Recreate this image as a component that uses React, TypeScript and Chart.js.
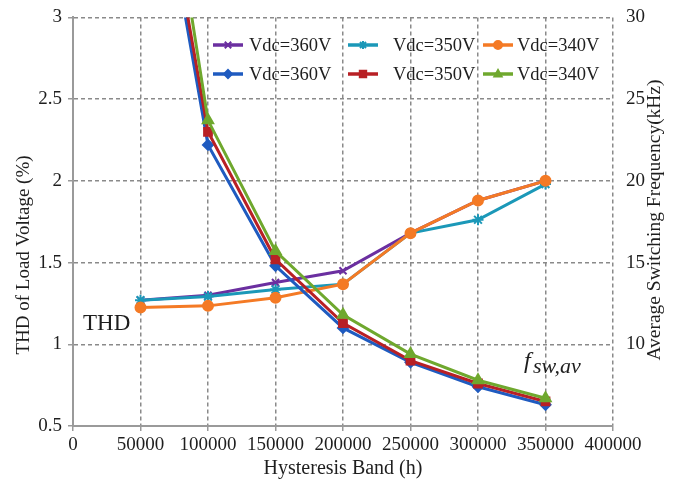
import React, { useEffect, useRef } from "react";
import { Chart, registerables } from "chart.js";

Chart.register(...registerables);

// ---------- data ----------
const hysteresisBand = [50000, 100000, 150000, 200000, 250000, 300000, 350000];

// THD of load voltage (%) – left axis
const thd360 = [1.27, 1.3, 1.378, 1.45, 1.68, 1.88, 2.0];
const thd350 = [1.27, 1.292, 1.335, 1.368, 1.68, 1.762, 1.98];
const thd340 = [1.225, 1.235, 1.285, 1.368, 1.68, 1.88, 2.0];

// Average switching frequency (kHz) – right axis
const fsw360 = [45.6, 22.2, 14.8, 11.0, 8.9, 7.4, 6.3];
const fsw350 = [46.5, 23.0, 15.2, 11.3, 9.0, 7.6, 6.5];
const fsw340 = [50.0, 23.7, 15.7, 11.8, 9.4, 7.8, 6.7];

const seriesLabels = ["Vdc=360V", "Vdc=350V", "Vdc=340V", "Vdc=360V", "Vdc=350V", "Vdc=340V"];

const xTitle = "Hysteresis Band (h)";
const yLeftTitle = "THD of Load Voltage (%)";
const yRightTitle = "Average Switching Frequency(kHz)";

// ---------- styles ----------
const SERIF = '"Liberation Serif", "DejaVu Serif", serif';
const TEXT = "#1e1e1e";
const GRID = "#8a8a8a";
const AXIS = "#9a9a9a";
const COLORS = ["#6b2fa0", "#1b98b8", "#f47a25", "#1f5bc0", "#b82025", "#6fa82e"];
const STYLES = ["crossRot", "star", "circle", "rectRot", "rect", "triangle"];
const RADII = [5, 5.5, 5, 5, 5.5, 6];

function marker(ctx: CanvasRenderingContext2D, style: string, x: number, y: number, r: number) {
  ctx.beginPath();
  switch (style) {
    case "crossRot": {
      const d = r * 0.8;
      ctx.moveTo(x - d, y - d); ctx.lineTo(x + d, y + d);
      ctx.moveTo(x - d, y + d); ctx.lineTo(x + d, y - d);
      ctx.stroke();
      return;
    }
    case "star": {
      const d = r * 0.75;
      ctx.moveTo(x - d, y - d); ctx.lineTo(x + d, y + d);
      ctx.moveTo(x - d, y + d); ctx.lineTo(x + d, y - d);
      ctx.moveTo(x, y - r); ctx.lineTo(x, y + r);
      ctx.moveTo(x - r, y); ctx.lineTo(x + r, y);
      ctx.stroke();
      return;
    }
    case "circle":
      ctx.arc(x, y, r, 0, Math.PI * 2);
      break;
    case "rectRot":
      ctx.moveTo(x, y - r); ctx.lineTo(x + r, y); ctx.lineTo(x, y + r); ctx.lineTo(x - r, y); ctx.closePath();
      break;
    case "rect":
      ctx.rect(x - r * 0.8, y - r * 0.8, r * 1.6, r * 1.6);
      break;
    case "triangle":
      ctx.moveTo(x, y - r); ctx.lineTo(x + r * 0.9, y + r * 0.6); ctx.lineTo(x - r * 0.9, y + r * 0.6); ctx.closePath();
      break;
  }
  ctx.fill();
  ctx.stroke();
}

const LEG_SAMPLE_X = [213, 348, 483];
const LEG_TEXT_X = [249, 393, 517];
const LEG_ROW_Y = [45, 74];

const overlayPlugin = {
  id: "overlay",
  afterDraw(chart: any) {
    const ctx: CanvasRenderingContext2D = chart.ctx;
    ctx.save();
    // legend
    chart.data.datasets.forEach((ds: any, i: number) => {
      const col = i % 3;
      const row = Math.floor(i / 3);
      const x0 = LEG_SAMPLE_X[col];
      const y = LEG_ROW_Y[row];
      ctx.strokeStyle = ds.borderColor;
      ctx.fillStyle = ds.borderColor;
      ctx.lineWidth = 3.5;
      ctx.setLineDash([]);
      ctx.beginPath();
      ctx.moveTo(x0, y);
      ctx.lineTo(x0 + 30, y);
      ctx.stroke();
      ctx.lineWidth = 2;
      marker(ctx, STYLES[i], x0 + 15, y, 4);
      ctx.fillStyle = TEXT;
      ctx.font = `18.5px ${SERIF}`;
      ctx.textAlign = "left";
      ctx.textBaseline = "middle";
      ctx.fillText(ds.label, LEG_TEXT_X[col], y + 1);
    });

    // annotations
    ctx.fillStyle = TEXT;
    ctx.textBaseline = "alphabetic";
    ctx.textAlign = "left";
    ctx.font = `23px ${SERIF}`;
    ctx.fillText("THD", 83, 330);
    ctx.font = `italic 24px ${SERIF}`;
    ctx.fillText("f", 524, 368);
    ctx.font = `italic 22px ${SERIF}`;
    ctx.fillText("sw,av", 533, 373);

    // rotated axis titles
    ctx.textAlign = "center";
    ctx.textBaseline = "middle";
    ctx.font = `19px ${SERIF}`;
    ctx.save();
    ctx.translate(24, 255);
    ctx.rotate(-Math.PI / 2);
    ctx.fillText(yLeftTitle, 0, 0);
    ctx.restore();
    ctx.font = `19.5px ${SERIF}`;
    ctx.save();
    ctx.translate(655, 220);
    ctx.rotate(-Math.PI / 2);
    ctx.fillText(yRightTitle, 0, 0);
    ctx.restore();
    ctx.restore();
  },
};

export default function App() {
  const ref = useRef<HTMLCanvasElement | null>(null);

  useEffect(() => {
    if (!ref.current) return;
    const series = [thd360, thd350, thd340, fsw360, fsw350, fsw340];
    const datasets = series.map((vals, i) => ({
      label: seriesLabels[i],
      data: vals.map((v, j) => ({ x: hysteresisBand[j], y: v })),
      yAxisID: i < 3 ? "y" : "y1",
      borderColor: COLORS[i],
      backgroundColor: COLORS[i],
      pointBackgroundColor: COLORS[i],
      pointBorderColor: COLORS[i],
      pointStyle: STYLES[i],
      pointRadius: RADII[i],
      pointBorderWidth: 2,
      borderWidth: 3,
      tension: 0,
      order: 6 - i,
    }));

    const chart = new Chart(ref.current, {
      type: "line",
      data: { datasets },
      plugins: [overlayPlugin],
      options: {
        responsive: false,
        animation: false,
        layout: { padding: { top: 15, left: 0, right: 0, bottom: 0 } },
        plugins: { legend: { display: false }, tooltip: { enabled: false } },
        scales: {
          x: {
            type: "linear",
            min: 0,
            max: 400000,
            afterFit: (s: any) => { s.height = 59; },
            ticks: {
              stepSize: 50000,
              color: TEXT,
              font: { family: SERIF, size: 19 },
              padding: 3,
              maxRotation: 0,
              autoSkip: false,
              callback: (v: any) => String(v),
            },
            grid: { color: GRID, lineWidth: 1.5, tickLength: 5, tickColor: AXIS, tickWidth: 1.5 },
            border: { display: true, color: AXIS, width: 2, dash: [4, 3] },
            title: { display: true, text: xTitle, color: TEXT, font: { family: SERIF, size: 20 }, padding: { top: 0, bottom: 4 } },
          },
          y: {
            position: "left",
            min: 0.5,
            max: 3,
            afterFit: (s: any) => { s.width = 73; },
            ticks: {
              stepSize: 0.5,
              color: TEXT,
              font: { family: SERIF, size: 19 },
              padding: 6,
              callback: (v: any) => String(Math.round(Number(v) * 10) / 10),
            },
            grid: { color: GRID, lineWidth: 1.5, tickLength: 5, tickColor: AXIS, tickWidth: 1.5 },
            border: { display: true, color: AXIS, width: 2, dash: [4, 3] },
          },
          y1: {
            position: "right",
            min: 5,
            max: 30,
            afterFit: (s: any) => { s.width = 66; },
            ticks: {
              stepSize: 5,
              color: TEXT,
              font: { family: SERIF, size: 19 },
              padding: 5,
              callback: (v: any) => (v === 5 ? "" : String(v)),
            },
            grid: { display: false },
            border: { display: false },
          },
        },
      },
    });
    return () => chart.destroy();
  }, []);

  return (
    <div style={{ position: "absolute", left: 0, top: 0, width: 679, height: 485, background: "#fff" }}>
      <canvas ref={ref} width={679} height={485} />
    </div>
  );
}
